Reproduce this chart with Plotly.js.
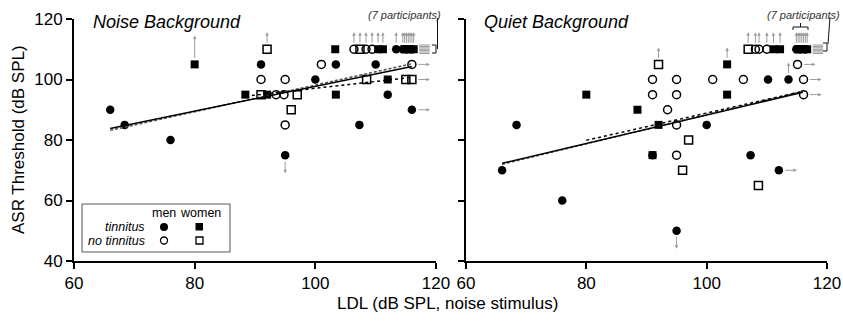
<!DOCTYPE html>
<html>
<head>
<meta charset="utf-8">
<script src="https://cdn.plot.ly/plotly-3.0.1.min.js"></script>
<style>html,body{margin:0;padding:0;background:#fff;}#chart{width:843px;height:325px;}</style>
</head>
<body>
<div id="chart"></div>
<script>
// ---------------- DATA ----------------
// Codes for censored values: '' none, 'u' up arrow, 'U' long up arrow, 'd' down arrow, 'r' right arrow, 'ur' up+right
const xTicks = [60, 80, 100, 120];
const yTicks = [40, 60, 80, 100, 120];

// Noise Background panel
const noiseTinMenX = [66, 68.4, 76, 91, 103.4, 110, 100, 112, 116, 107.3, 95, 113.4, 114.5, 115.1, 116.0];
const noiseTinMenY = [90, 85, 80, 105, 105, 105, 100, 95, 90, 85, 75, 110, 110, 110, 110];
const noiseTinMenC = ['', '', '', '', '', '', '', '', 'r', '', 'd', 'u', 'ur', 'ur', 'ur'];
const noiseTinWomX = [80, 88.4, 92, 103.4, 112, 103.3, 110.4, 111.2, 114.8, 115.4, 115.7, 116.3];
const noiseTinWomY = [105, 95, 95, 95, 100, 110, 110, 110, 110, 110, 110, 110];
const noiseTinWomC = ['U', '', '', '', '', '', 'u', 'u', 'ur', 'ur', 'ur', 'ur'];
const noiseNoMenX = [101, 116, 91, 95, 93.5, 94.8, 95, 106.4, 108.4, 109.4];
const noiseNoMenY = [105, 105, 100, 100, 95, 95, 85, 110, 110, 110];
const noiseNoMenC = ['', 'r', '', '', '', '', '', 'u', 'u', 'u'];
const noiseNoWomX = [92, 108.5, 115, 116, 91, 97, 96, 107.4];
const noiseNoWomY = [110, 100, 100, 100, 95, 95, 90, 110];
const noiseNoWomC = ['u', '', '', 'r', '', '', '', 'u'];
const noiseFitSolidX = [66, 116], noiseFitSolidY = [83.8, 104.3];
const noiseFitDashX = [66, 116], noiseFitDashY = [83.2, 105.2];
const noiseFitDotX = [88.5, 115.5], noiseFitDotY = [94.5, 100.6];

// Quiet Background panel
const quietTinMenX = [68.4, 66, 76, 91, 95, 100, 107.3, 112, 110.2, 113.6, 114.9, 115.5, 116.4];
const quietTinMenY = [85, 70, 60, 75, 50, 85, 75, 70, 100, 100, 110, 110, 110];
const quietTinMenC = ['', '', '', '', 'd', '', '', 'r', '', 'u', 'ur', 'ur', 'ur'];
const quietTinWomX = [80, 88.5, 92, 91, 103.4, 103.4, 111.1, 112.2, 115.2, 115.8, 116.1, 116.7];
const quietTinWomY = [95, 90, 85, 75, 105, 95, 110, 110, 110, 110, 110, 110];
const quietTinWomC = ['', '', '', '', 'u', '', 'u', 'u', 'ur', 'ur', 'ur', 'ur'];
const quietNoMenX = [91, 95, 101, 106.1, 116.1, 91, 95, 116.1, 93.5, 95, 95, 115.1, 108.1, 108.7, 110];
const quietNoMenY = [100, 100, 100, 100, 100, 95, 95, 95, 90, 85, 75, 105, 110, 110, 110];
const quietNoMenC = ['', '', '', '', 'r', '', '', 'r', '', '', '', 'r', 'u', 'u', 'u'];
const quietNoWomX = [92, 97, 96, 108.6, 106.9];
const quietNoWomY = [105, 80, 70, 65, 110];
const quietNoWomC = ['u', '', '', '', 'u'];
const quietFitSolidX = [66, 116], quietFitSolidY = [72.3, 95.8];
const quietFitDashX = [66, 116], quietFitDashY = [72.0, 96.1];
const quietFitDotX = [80, 116], quietFitDotY = [79.9, 96.1];

const panelTitles = ['Noise Background', 'Quiet Background'];
const noteText = '(7 participants)';
const legendCols = ['men', 'women'];
const legendRows = ['tinnitus', 'no tinnitus'];
const yTitle = 'ASR Threshold (dB SPL)';
const xTitle = 'LDL (dB SPL, noise stimulus)';

// ---------------- LAYOUT HELPERS ----------------
const FONT = 'Liberation Sans, Arial, sans-serif';
const ML = 74, MR = 16, MT = 19, MB = 64, FW = 843, FH = 325;
const PW = FW - ML - MR, PH = FH - MT - MB;
const pX = px => (px - ML) / PW;
const pY = py => (FH - MB - py) / PH;

const styles = {
  tm: {symbol: 'circle', size: 8.5, color: '#000', line: {width: 0}},
  tw: {symbol: 'square', size: 8, color: '#000', line: {width: 0}},
  nm: {symbol: 'circle-open', size: 8, color: '#000', line: {width: 1.5, color: '#000'}},
  nw: {symbol: 'square-open', size: 8, color: '#000', line: {width: 1.5, color: '#000'}}
};

const traces = [];
const annotations = [];
const shapes = [];
const ARW = {showarrow: true, text: '', arrowcolor: '#9c9c9c', arrowwidth: 1, arrowhead: 2, arrowsize: 0.7, standoff: 0};

function addPanel(groups, fits, xa, ya) {
  const xref = xa, yref = ya;
  groups.forEach(g => {
    traces.push({type: 'scatter', mode: 'markers', x: g.x, y: g.y, xaxis: xa, yaxis: ya,
      marker: styles[g.s], cliponaxis: false, showlegend: false, hoverinfo: 'skip'});
  });
  fits.forEach(f => {
    traces.push({type: 'scatter', mode: 'lines', x: f.x, y: f.y, xaxis: xa, yaxis: ya,
      line: f.line, showlegend: false, hoverinfo: 'skip'});
  });
  let cmax = -Infinity;
  groups.forEach(g => g.c.forEach((c, i) => { if (c === 'ur') cmax = Math.max(cmax, g.x[i]); }));
  const urPts = [];
  groups.forEach(g => g.c.forEach((c, i) => {
    const x = g.x[i], y = g.y[i];
    const gap = 5;
    if (c === 'u' || c === 'U' || c === 'ur') {
      const len = c === 'U' ? 24 : 12;
      annotations.push(Object.assign({}, ARW, {x: x, y: y, xref: xref, yref: yref, ax: 0, ay: len, yshift: gap + len}));
    }
    if (c === 'd') {
      const len = 13;
      annotations.push(Object.assign({}, ARW, {x: x, y: y, xref: xref, yref: yref, ax: 0, ay: -len, yshift: -(gap + len)}));
    }
    if (c === 'r') {
      const len = 13;
      annotations.push(Object.assign({}, ARW, {x: x, y: y, xref: xref, yref: yref, ax: -len, ay: 0, xshift: gap + len}));
    }
    if (c === 'ur') urPts.push(y);
  }));
  urPts.forEach((y, k) => {
    const len = 12, off = (k - (urPts.length - 1) / 2) * 1.4;
    annotations.push(Object.assign({}, ARW, {x: cmax, y: y, xref: xref, yref: yref, ax: -len, ay: 0, xshift: 4 + len, yshift: off, arrowhead: 0}));
  });
}

addPanel([
  {x: noiseTinMenX, y: noiseTinMenY, c: noiseTinMenC, s: 'tm'},
  {x: noiseTinWomX, y: noiseTinWomY, c: noiseTinWomC, s: 'tw'},
  {x: noiseNoMenX, y: noiseNoMenY, c: noiseNoMenC, s: 'nm'},
  {x: noiseNoWomX, y: noiseNoWomY, c: noiseNoWomC, s: 'nw'}
], [
  {x: noiseFitDashX, y: noiseFitDashY, line: {color: '#555', width: 1.6, dash: '3px,2px'}},
  {x: noiseFitSolidX, y: noiseFitSolidY, line: {color: '#000', width: 1.5}},
  {x: noiseFitDotX, y: noiseFitDotY, line: {color: '#000', width: 1.5, dash: 'dot'}}
], 'x', 'y');

addPanel([
  {x: quietTinMenX, y: quietTinMenY, c: quietTinMenC, s: 'tm'},
  {x: quietTinWomX, y: quietTinWomY, c: quietTinWomC, s: 'tw'},
  {x: quietNoMenX, y: quietNoMenY, c: quietNoMenC, s: 'nm'},
  {x: quietNoWomX, y: quietNoWomY, c: quietNoWomC, s: 'nw'}
], [
  {x: quietFitDashX, y: quietFitDashY, line: {color: '#555', width: 1.6, dash: '3px,2px'}},
  {x: quietFitSolidX, y: quietFitSolidY, line: {color: '#000', width: 1.5}},
  {x: quietFitDotX, y: quietFitDotY, line: {color: '#000', width: 1.5, dash: 'dot'}}
], 'x2', 'y2');

// ---------------- TEXT ----------------
function txt(text, px, py, opts) {
  annotations.push(Object.assign({text: text, x: pX(px), y: pY(py), xref: 'paper', yref: 'paper',
    showarrow: false, xanchor: 'center', yanchor: 'middle', borderpad: 0, font: {family: FONT, size: 17, color: '#000'}}, opts || {}));
}
txt('<i>' + panelTitles[0] + '</i>', 92, 22, {xanchor: 'left', font: {family: FONT, size: 18, color: '#000'}});
txt('<i>' + panelTitles[1] + '</i>', 483, 22, {xanchor: 'left', font: {family: FONT, size: 18, color: '#000'}});
txt('<i>' + noteText + '</i>', 442, 15, {xanchor: 'right', font: {family: FONT, size: 11, color: '#333'}});
txt('<i>' + noteText + '</i>', 841, 15, {xanchor: 'right', font: {family: FONT, size: 11, color: '#333'}});
txt(xTitle, 447, 303);
txt(yTitle, 18, 140, {textangle: -90});

// legend box
shapes.push({type: 'rect', xref: 'paper', yref: 'paper', x0: pX(82), x1: pX(230), y0: pY(204), y1: pY(252), line: {color: '#555', width: 1}, fillcolor: 'rgba(255,255,255,0)'});
const lgFont = {family: FONT, size: 12.5, color: '#000'};
txt(legendCols[0], 164, 213, {font: lgFont});
txt(legendCols[1], 200, 213, {font: lgFont});
txt('<i>' + legendRows[0] + '</i>', 146, 226.5, {xanchor: 'right', font: lgFont});
txt('<i>' + legendRows[1] + '</i>', 146, 240.5, {xanchor: 'right', font: lgFont});
shapes.push({type: 'circle', xref: 'paper', yref: 'paper', x0: pX(160), x1: pX(168), y0: pY(231), y1: pY(223), fillcolor: '#000', line: {width: 0}});
shapes.push({type: 'rect', xref: 'paper', yref: 'paper', x0: pX(195.5), x1: pX(203), y0: pY(230.5), y1: pY(223), fillcolor: '#000', line: {width: 0}});
shapes.push({type: 'circle', xref: 'paper', yref: 'paper', x0: pX(160.5), x1: pX(167.5), y0: pY(244), y1: pY(237), line: {color: '#000', width: 1.3}});
shapes.push({type: 'rect', xref: 'paper', yref: 'paper', x0: pX(196), x1: pX(203), y0: pY(244), y1: pY(237), line: {color: '#000', width: 1.3}});

// brackets for the "(7 participants)" notes
function seg(d) { shapes.push({type: 'line', xref: 'paper', yref: 'paper', x0: pX(d[0]), y0: pY(d[1]), x1: pX(d[2]), y1: pY(d[3]), line: {color: '#111', width: 1}}); }
seg([437.5, 18, 437.5, 49]);
seg([432, 45, 436, 45]); seg([436, 45, 436, 53]); seg([432, 53, 436, 53]);
seg([830, 17, 828, 44]);
seg([823, 43, 827, 43]); seg([827, 43, 827, 51]); seg([823, 51, 827, 51]);
seg([793, 27, 808, 27]); seg([793, 27, 793, 30]); seg([808, 27, 808, 30]); seg([800.5, 23, 800.5, 27]);

// ---------------- AXES ----------------
const axBase = {showline: true, linewidth: 2, linecolor: '#000', ticks: 'outside', ticklen: 6, tickwidth: 2, tickcolor: '#000',
  showgrid: false, zeroline: false, tickfont: {family: FONT, size: 17, color: '#000'}, fixedrange: true};
const layout = {
  width: FW, height: FH, margin: {l: ML, r: MR, t: MT, b: MB}, paper_bgcolor: '#fff', plot_bgcolor: 'rgba(0,0,0,0)',
  showlegend: false,
  xaxis: Object.assign({}, axBase, {domain: [0, pX(436)], range: [60, 120], tickvals: xTicks, anchor: 'y'}),
  yaxis: Object.assign({}, axBase, {domain: [0, 1], range: [40, 120], tickvals: yTicks, anchor: 'x'}),
  xaxis2: Object.assign({}, axBase, {domain: [pX(466), 1], range: [60, 120], tickvals: xTicks, anchor: 'y2'}),
  yaxis2: Object.assign({}, axBase, {domain: [0, 1], range: [40, 120], tickvals: yTicks, anchor: 'x2', showticklabels: false}),
  annotations: annotations, shapes: shapes
};
Plotly.newPlot('chart', traces, layout, {staticPlot: true, displayModeBar: false});
</script>
</body>
</html>
